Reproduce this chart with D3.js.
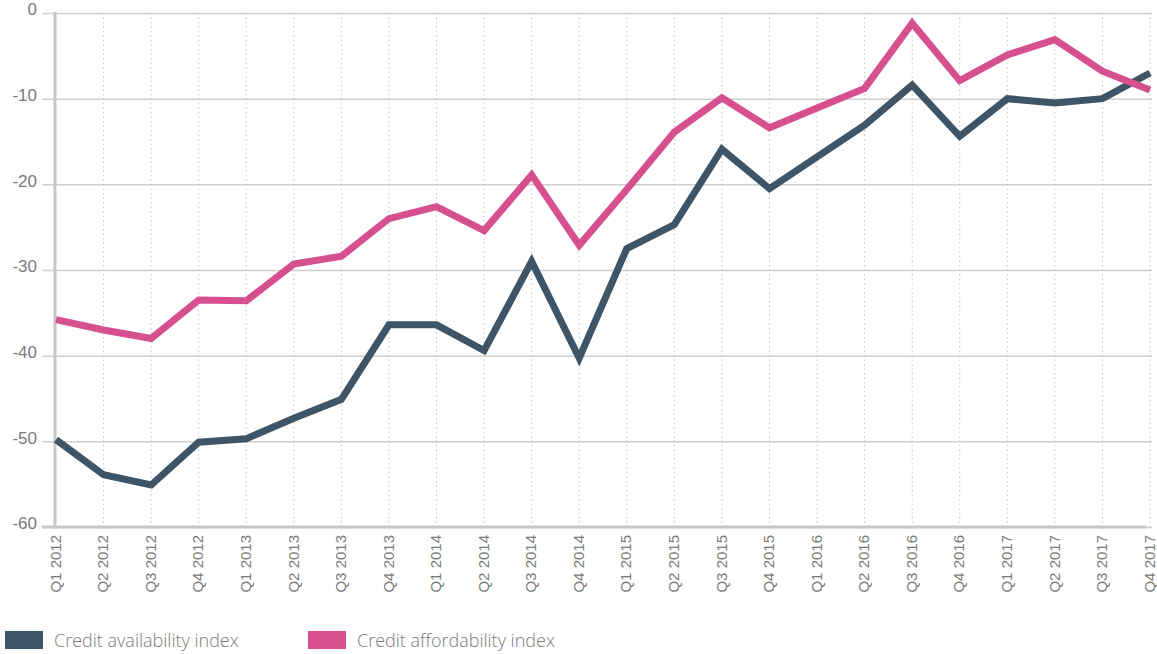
<!DOCTYPE html>
<html>
<head>
<meta charset="utf-8">
<script src="https://cdn.jsdelivr.net/npm/d3@7"></script>
<style>
  body { margin: 0; background: #fff; }
  svg { font-family: "Open Sans", Lato, sans-serif; font-weight: 300; }
</style>
</head>
<body>
<svg id="chart"></svg>
<script>
let quarters = ['Q1 2012', 'Q2 2012', 'Q3 2012', 'Q4 2012', 'Q1 2013', 'Q2 2013', 'Q3 2013', 'Q4 2013',
  'Q1 2014', 'Q2 2014', 'Q3 2014', 'Q4 2014', 'Q1 2015', 'Q2 2015', 'Q3 2015', 'Q4 2015',
  'Q1 2016', 'Q2 2016', 'Q3 2016', 'Q4 2016', 'Q1 2017', 'Q2 2017', 'Q3 2017', 'Q4 2017']

let availability = [-49.8, -53.9, -55.1, -50.1, -49.7, -47.3, -45.1, -36.4,
  -36.4, -39.4, -29.0, -40.3, -27.5, -24.7, -15.9, -20.5,
  -16.8, -13.1, -8.4, -14.4, -10.0, -10.5, -10.0, -7.0]

let affordability = [-35.8, -37.0, -38.0, -33.5, -33.6, -29.3, -28.4, -24.0,
  -22.6, -25.4, -18.9, -27.1, -20.6, -13.9, -9.9, -13.4,
  -11.1, -8.8, -1.2, -7.9, -4.9, -3.1, -6.8, -9.0]

let seriesNames = ['Credit availability index', 'Credit affordability index']
let seriesColors = ['#3e5467', '#d64f8f']
let yTicks = [0, -10, -20, -30, -40, -50, -60]

let w = 1157
let h = 654
let padLeft = 56
let padRight = 1150
let padTop = 13
let padBottom = 527

let svg = d3.select('#chart').attr('width', w).attr('height', h)

let xScale = d3.scalePoint().domain(quarters).range([padLeft, padRight])
let yScale = d3.scaleLinear().domain([-60, 0]).range([padBottom, padTop])

// horizontal grid
let yAxis = d3.axisLeft(yScale).tickValues(yTicks).tickSize(0).tickPadding(4).tickFormat(d => String(d))
let gy = svg.append('g').attr('transform', 'translate(' + (padLeft - 14) + ',0)').call(yAxis)
gy.select('.domain').remove()
gy.selectAll('.tick line').attr('stroke', '#cfcfcf').attr('stroke-width', 1.5).attr('x1', 0).attr('x2', padRight - padLeft + 16)
gy.selectAll('.tick text').attr('fill', '#7a7a7a').attr('font-size', 17).attr('x', -5).attr('dy', '0.1em')

// vertical dotted grid
svg.append('g').selectAll('line')
  .data(quarters.slice(1))
  .enter()
  .append('line')
  .attr('x1', d => xScale(d)).attr('x2', d => xScale(d))
  .attr('y1', padTop).attr('y2', padBottom)
  .attr('stroke', '#c4c4c4').attr('stroke-width', 1).attr('stroke-dasharray', '1.5,3')

// axes lines
svg.append('line').attr('x1', padLeft - 1).attr('x2', padLeft - 1).attr('y1', padTop - 1).attr('y2', padBottom + 2)
  .attr('stroke', '#c8c8c8').attr('stroke-width', 3)
svg.append('line').attr('x1', padLeft - 14).attr('x2', padRight - 4).attr('y1', padBottom).attr('y2', padBottom)
  .attr('stroke', '#c8c8c8').attr('stroke-width', 3)

// x labels
let xAxis = d3.axisBottom(xScale).tickSize(0).tickPadding(0)
let gx = svg.append('g').attr('transform', 'translate(0,' + padBottom + ')').call(xAxis)
gx.select('.domain').remove()
gx.selectAll('.tick text')
  .attr('transform', 'rotate(-90)')
  .attr('text-anchor', 'end')
  .attr('x', -8).attr('y', 0).attr('dy', '0.28em')
  .attr('fill', '#7a7a7a').attr('font-size', 15)

// lines
let line = d3.line().x((d, i) => xScale(quarters[i])).y(d => yScale(d))
;[availability, affordability].forEach((vals, k) => {
  svg.append('path')
    .datum(vals)
    .attr('d', line)
    .attr('fill', 'none')
    .attr('stroke', seriesColors[k])
    .attr('stroke-width', 7)
    .attr('stroke-linejoin', 'miter')
    .attr('stroke-linecap', 'butt')
})

// legend
let legendX = [5, 308]
seriesNames.forEach((name, k) => {
  let g = svg.append('g').attr('transform', 'translate(' + legendX[k] + ',631)')
  g.append('rect').attr('width', 38).attr('height', 18).attr('fill', seriesColors[k])
  g.append('text').attr('x', 49).attr('y', 16).attr('fill', '#7a7a7a').attr('font-size', 18).text(name)
})
</script>
</body>
</html>
